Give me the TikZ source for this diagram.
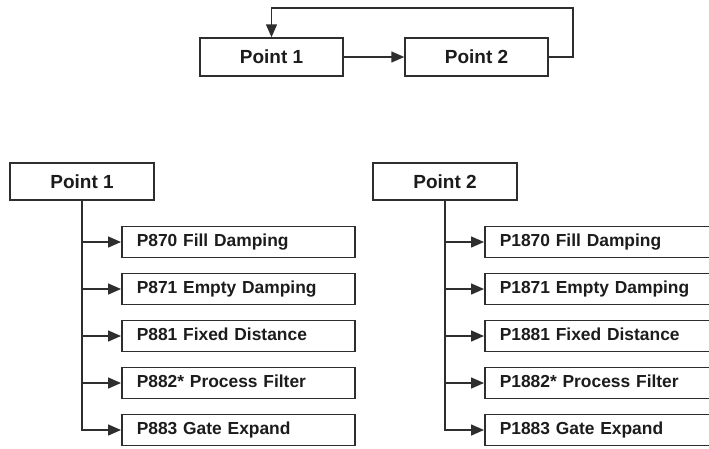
\documentclass[tikz,border=0pt]{standalone}
\usepackage{fontspec}
\setmainfont{Liberation Sans}
\usetikzlibrary{arrows.meta}
\definecolor{ink}{HTML}{2E2E2E}
\definecolor{txt}{HTML}{1C1C1C}
\tikzset{
  box/.style={draw=ink, line width=1.5pt, rectangle, inner sep=0pt, font=\bfseries, text=txt},
  topbox/.style={box, minimum width=143pt, minimum height=38pt, font=\bfseries\fontsize{19}{21}\selectfont},
  headbox/.style={box, minimum width=144pt, minimum height=37pt, font=\bfseries\fontsize{19}{21}\selectfont},
  childbox/.style={box, anchor=west, inner xsep=15pt, text width=203pt, align=left,
     minimum height=31pt, text height=12.5pt, text depth=3.5pt, font=\bfseries\fontsize{17.4}{19}\selectfont},
  arr/.style={draw=ink, line width=1.5pt, -{Triangle[length=13pt,width=11pt]}},
}
\begin{document}
\begin{tikzpicture}[x=1pt,y=-1pt]
\useasboundingbox[fill=white] (0,0) rectangle (709,448);
% top loop
\node[topbox] (t1) at (271.5,57) {Point 1};
\node[topbox] (t2) at (476.5,57) {Point 2};
\coordinate (fbr) at (573,8);
\coordinate (fbl) at (271.5,8);
\draw[arr] (t1) -- (t2);
\draw[arr] (t2.east) -| (fbr) -- (fbl) -- (t1.north);
% left tree
\node[headbox] (l0) at (82,181.5) {Point 1};
\node[childbox] (l1) at (121,242) {P870 Fill Damping};
\node[childbox] (l2) at (121,289) {P871 Empty Damping};
\node[childbox] (l3) at (121,336) {P881 Fixed Distance};
\node[childbox] (l4) at (121,383) {P882* Process Filter};
\node[childbox] (l5) at (121,430) {P883 Gate Expand};
\foreach \i in {1,...,5} \draw[arr] (l0.south) |- (l\i.west);
% right tree
\node[headbox] (r0) at (445,181.5) {Point 2};
\node[childbox] (r1) at (484,242) {P1870 Fill Damping};
\node[childbox] (r2) at (484,289) {P1871 Empty Damping};
\node[childbox] (r3) at (484,336) {P1881 Fixed Distance};
\node[childbox] (r4) at (484,383) {P1882* Process Filter};
\node[childbox] (r5) at (484,430) {P1883 Gate Expand};
\foreach \i in {1,...,5} \draw[arr] (r0.south) |- (r\i.west);
\end{tikzpicture}
\end{document}
